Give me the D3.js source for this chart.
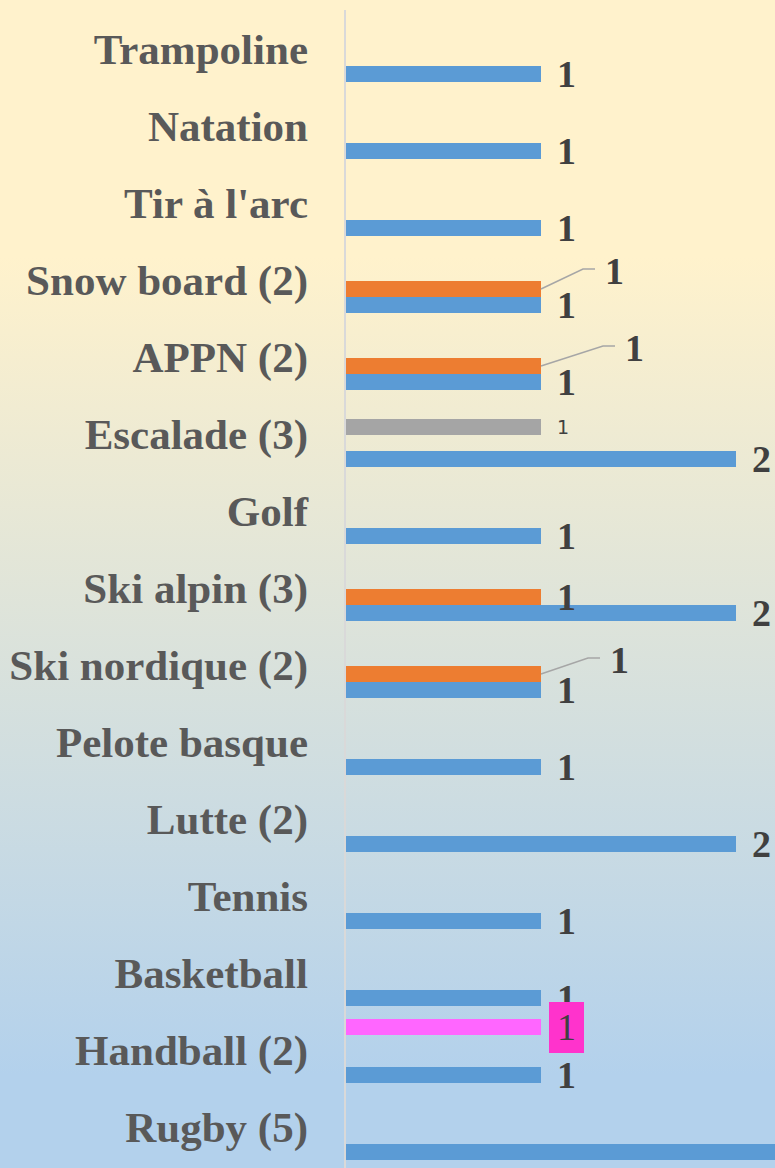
<!DOCTYPE html>
<html>
<head>
<meta charset="utf-8">
<script src="https://cdn.jsdelivr.net/npm/d3@7"></script>
<style>
  body { margin: 0; padding: 0; overflow: hidden; }
  svg { display: block; }
</style>
</head>
<body>
<div id="chart"></div>
<script>
// Categories, top to bottom
const categories = ["Trampoline", "Natation", "Tir à l'arc", "Snow board (2)", "APPN (2)",
  "Escalade (3)", "Golf", "Ski alpin (3)", "Ski nordique (2)", "Pelote basque",
  "Lutte (2)", "Tennis", "Basketball", "Handball (2)", "Rugby (5)"];

// Series values (null = no bar)
const seriesBlue   = [1, 1, 1, 1, 1, 2, 1, 2, 1, 1, 2, 1, 1, 1, 5];
const seriesOrange = [null, null, null, 1, 1, null, null, 1, 1, null, null, null, null, null, null];
const seriesGray   = [null, null, null, null, null, 1, null, null, null, null, null, null, null, null, null];
const seriesPink   = [null, null, null, null, null, null, null, null, null, null, null, null, null, 1, null];

const seriesNames = ["s1", "s2", "s3", "s4"];
const seriesValues = [seriesBlue, seriesOrange, seriesGray, seriesPink];
const colors = { s1: "#5B9BD5", s2: "#ED7D31", s3: "#A5A5A5", s4: "#FF66FF" };

// Label nudges for the orange labels that were dragged out (with leader lines)
const labelNudge = {
  "Snow board (2)": [48, -18],
  "APPN (2)": [68, -18],
  "Ski nordique (2)": [53, -14]
};

const W = 775, H = 1168;
const x0 = 346;

const svg = d3.select("#chart").append("svg")
  .attr("width", W)
  .attr("height", H);

// background gradient
const grad = svg.append("defs").append("linearGradient")
  .attr("id", "bg").attr("x1", 0).attr("y1", 0).attr("x2", 0).attr("y2", 1);
grad.append("stop").attr("offset", "0%").attr("stop-color", "#FFF2CC");
grad.append("stop").attr("offset", "22%").attr("stop-color", "#FFF2CC");
grad.append("stop").attr("offset", "92%").attr("stop-color", "#B3D1EC");
grad.append("stop").attr("offset", "100%").attr("stop-color", "#B3D1EC");
svg.append("rect").attr("width", W).attr("height", H).attr("fill", "url(#bg)");

// scales
const x = d3.scaleLinear().domain([0, 1]).range([x0, x0 + 195]);
const y = d3.scaleBand().domain(categories)
  .range([11.5, 1166.5])
  .paddingInner(13 / 77)
  .paddingOuter(6.5 / 77);
const ySub = d3.scaleBand().domain(seriesNames.slice().reverse())
  .range([0, y.bandwidth()]);

// flatten
const bars = [];
seriesNames.forEach((s, si) => {
  seriesValues[si].forEach((v, ci) => {
    if (v != null) bars.push({ series: s, cat: categories[ci], value: v });
  });
});

// bars
svg.append("g").selectAll("rect")
  .data(bars)
  .enter()
  .append("rect")
    .attr("x", x(0))
    .attr("y", d => y(d.cat) + ySub(d.series))
    .attr("width", d => x(d.value) - x(0))
    .attr("height", ySub.bandwidth())
    .attr("fill", d => colors[d.series]);

// axis line
svg.append("line")
  .attr("x1", 345).attr("x2", 345)
  .attr("y1", 10).attr("y2", H)
  .attr("stroke", "#D9D9D9")
  .attr("stroke-width", 2);

// category labels
svg.append("g").selectAll("text")
  .data(categories)
  .enter()
  .append("text")
    .attr("x", 308)
    .attr("y", d => y(d) + y.bandwidth() / 2 + 14)
    .attr("text-anchor", "end")
    .style("font-family", "'Liberation Serif', 'Times New Roman', serif")
    .style("font-weight", "bold")
    .style("font-size", "43px")
    .attr("fill", "#595959")
    .text(d => d);

// data labels (the ones past the right edge are not shown)
const labels = svg.append("g");
bars.filter(d => x(d.value) + 16 < W).forEach(d => {
  const ex = x(d.value);
  const cy = y(d.cat) + ySub(d.series) + ySub.bandwidth() / 2;
  if (d.series === "s1" || d.series === "s2") {
    const nudge = (d.series === "s2" && labelNudge[d.cat]) || [0, 0];
    const lx = ex + 16 + nudge[0], ly = cy + nudge[1];
    if (nudge[0] !== 0) {
      labels.append("polyline")
        .attr("points", [[ex, cy], [lx - 22, ly - 2], [lx - 10, ly - 2]].map(p => p.join(",")).join(" "))
        .attr("fill", "none")
        .attr("stroke", "#A6A6A6")
        .attr("stroke-width", 1.5);
    }
    labels.append("text")
      .attr("x", lx)
      .attr("y", ly + 13)
      .style("font-family", "'Liberation Serif', 'Times New Roman', serif")
      .style("font-weight", "bold")
      .style("font-size", "38px")
      .attr("fill", "#404040")
      .text(d.value);
  } else if (d.series === "s3") {
    labels.append("text")
      .attr("x", ex + 16)
      .attr("y", cy + 7)
      .style("font-family", "'DejaVu Sans', sans-serif")
      .style("font-size", "19px")
      .attr("fill", "#404040")
      .text(d.value);
  }
});

// pink label with filled box, drawn last
bars.filter(d => d.series === "s4").forEach(d => {
  const ex = x(d.value);
  const cy = y(d.cat) + ySub(d.series) + ySub.bandwidth() / 2;
  labels.append("rect")
    .attr("x", ex + 8).attr("y", cy - 25)
    .attr("width", 35).attr("height", 51)
    .attr("fill", "#FF33CC");
  labels.append("text")
    .attr("x", ex + 25.5)
    .attr("y", cy + 13)
    .attr("text-anchor", "middle")
    .style("font-family", "'Liberation Serif', 'Times New Roman', serif")
    .style("font-size", "38px")
    .attr("fill", "#404040")
    .text(d.value);
});
</script>
</body>
</html>
